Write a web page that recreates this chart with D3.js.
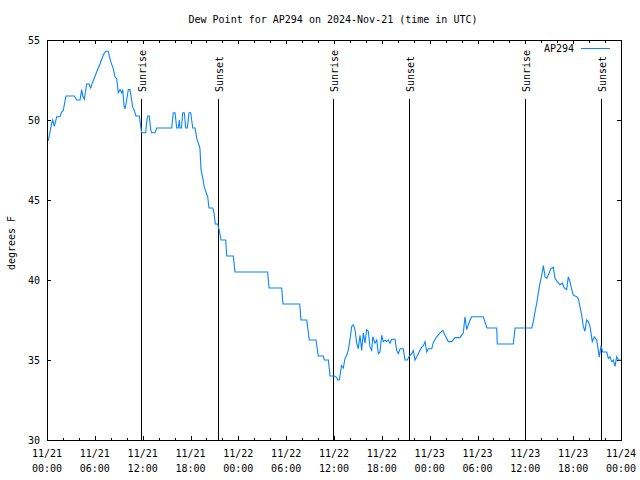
<!DOCTYPE html>
<html><head><meta charset="utf-8">
<script src="https://cdn.jsdelivr.net/npm/d3@7"></script>
<style>
html,body{margin:0;padding:0;background:#fff;}
svg text{font-family:"DejaVu Sans Mono",monospace;font-size:10px;fill:#000;}
</style></head>
<body>
<svg id="c" width="640" height="480"></svg>
<script>
// ---- data (hours since 2024-11-21 00:00 UTC, dew point in °F) ----
const title = "Dew Point for AP294 on 2024-Nov-21 (time in UTC)";
const seriesName = "AP294";
const yLabel = "degrees F";
const yTicks = [30, 35, 40, 45, 50, 55];
const hours = [
0.16,0.59,0.72,0.92,1.22,1.63,1.84,2.04,2.38,3.42,3.73,4.14,4.35,4.48,4.68,4.98,5.27,5.48,5.68,6.23,6.65,7.06,7.36,7.69,7.81,8.03,8.32,8.53,8.74,8.94,9.16,9.37,9.50,9.66,9.78,9.91,10.20,10.41,10.54,10.75,10.95,11.16,11.58,11.75,11.88,12.38,12.51,12.63,12.83,13.01,13.13,13.55,13.76,15.64,15.84,16.06,16.27,16.47,16.60,16.68,16.87,17.02,17.22,17.40,17.60,17.81,18.03,18.15,18.28,18.57,18.78,19.10,19.19,19.32,19.53,19.73,20.16,20.32,20.79,20.95,21.11,21.41,21.61,21.83,22.42,22.54,23.37,23.58,27.68,27.85,29.44,29.60,31.70,31.86,32.58,32.90,33.74,34.03,34.66,34.78,35.29,35.50,36.04,36.34,36.47,36.67,36.94,37.17,37.38,37.59,37.79,38.01,38.22,38.42,38.63,38.85,39.05,39.26,39.47,39.68,39.89,40.10,40.30,40.52,40.73,40.86,41.14,41.36,41.56,41.77,41.98,42.18,42.40,42.61,42.81,43.03,43.24,43.65,43.86,44.07,44.28,44.69,44.91,45.20,45.45,45.75,45.95,46.16,46.38,46.58,47.00,47.20,47.42,47.63,47.83,48.26,48.46,48.88,49.30,49.64,49.92,50.34,50.76,51.18,51.80,52.22,52.43,52.64,52.85,53.06,53.27,54.73,55.15,55.23,56.41,56.48,58.49,58.71,60.80,61.00,61.21,61.43,61.63,61.84,62.06,62.26,62.47,62.68,62.97,63.18,63.51,63.72,64.01,64.35,64.64,64.89,65.19,65.39,65.60,65.82,66.02,66.44,66.64,66.86,67.07,67.27,67.48,67.69,67.90,68.11,68.40,68.65,68.95,69.15,69.28,69.49,69.70,70.21,70.41,70.62,70.83,71.04,71.25,71.46,71.67,71.97
];
const dewF = [
48.7,49.8,50.0,49.6,50.2,50.2,50.5,50.6,51.5,51.5,51.25,51.25,51.9,51.5,51.3,52.25,52.25,52.0,52.3,53.0,53.5,54.06,54.3,54.3,54.0,53.6,53.2,52.7,52.6,51.7,51.9,51.7,51.9,50.9,50.7,51.0,51.9,51.9,51.5,50.8,50.6,50.25,50.25,49.6,49.2,49.2,49.9,50.25,50.25,49.4,49.2,49.2,49.5,49.5,50.45,50.45,49.5,49.5,50.0,49.5,49.5,50.45,50.45,49.5,49.5,50.45,50.45,50.0,49.5,49.5,48.85,48.4,48.2,46.9,46.4,45.8,45.2,44.5,44.5,44.2,43.5,43.5,43.1,42.5,42.5,41.5,41.5,40.5,40.5,39.5,39.5,38.5,38.5,37.5,37.5,36.25,36.25,35.25,35.25,35.0,35.0,34.0,34.0,33.9,33.75,33.75,34.65,34.5,35.1,35.3,35.6,36.3,37.1,37.2,36.9,36.05,35.7,36.55,35.6,36.7,36.05,36.9,36.8,35.8,35.6,36.45,36.05,36.25,35.4,35.5,36.55,36.15,36.25,36.15,36.25,36.05,36.3,36.3,35.6,35.4,35.7,35.7,35.0,35.0,35.25,35.4,35.6,35.0,35.2,35.4,35.8,35.9,36.15,35.5,35.7,35.7,36.1,36.45,36.7,36.85,36.55,36.15,36.15,36.4,36.4,36.7,37.7,36.9,37.2,37.5,37.7,37.7,37.05,37.0,37.0,36.0,36.0,37.0,37.0,37.4,38.0,38.55,39.2,39.8,40.3,40.9,40.2,40.1,40.4,40.7,40.8,40.1,39.9,39.7,39.8,39.5,39.4,40.2,39.9,39.4,39.05,38.95,38.85,38.3,37.8,37.1,36.8,37.5,37.4,37.1,36.15,36.45,36.25,35.6,35.2,35.9,35.5,35.5,35.1,35.2,34.9,35.0,34.6,35.2,35.0,35.0
];
const sunriseHours = [11.79, 35.88, 59.96];
const sunsetHours = [21.45, 45.41, 69.49];

// ---- layout ----
const L = 47, R = 621, T = 40, B = 440;
const t0 = Date.UTC(2024, 10, 21, 0, 0);
const t1 = Date.UTC(2024, 10, 24, 0, 0);
const toDate = h => new Date(t0 + h * 3600e3);

const svg = d3.select("#c");
const x = d3.scaleUtc().domain([new Date(t0), new Date(t1)]).range([L, R]);
const y = d3.scaleLinear().domain([30, 55]).range([B, T]);

const g = svg.append("g").attr("shape-rendering", "crispEdges");

// ticks (inward, mirrored)
const majorX = d3.utcHour.every(6).range(new Date(t0), new Date(t1 + 1));
const minorX = d3.utcHour.every(2).range(new Date(t0), new Date(t1 + 1));
function tickAxis(axisFn, scale, vals, size, tr) {
  const a = axisFn(scale).tickValues(vals).tickSizeInner(size).tickSizeOuter(0).tickFormat("");
  const s = g.append("g").attr("transform", tr).call(a);
  s.select(".domain").remove();
  s.selectAll("line").attr("stroke", "#000");
}
tickAxis(d3.axisBottom, x, minorX, -2.5, `translate(0,${B})`);
tickAxis(d3.axisBottom, x, majorX, -4, `translate(0,${B})`);
tickAxis(d3.axisTop, x, minorX, -2.5, `translate(0,${T})`);
tickAxis(d3.axisTop, x, majorX, -4, `translate(0,${T})`);
tickAxis(d3.axisLeft, y, yTicks, -4, `translate(${L},0)`);
tickAxis(d3.axisRight, y, yTicks, -4, `translate(${R},0)`);

// sunrise/sunset lines
const events = sunriseHours.map(h => ({h, label: "Sunrise"}))
  .concat(sunsetHours.map(h => ({h, label: "Sunset"})));
g.selectAll("line.ev").data(events).enter().append("line")
  .attr("class", "ev")
  .attr("x1", d => Math.round(x(toDate(d.h))) + 0.5).attr("x2", d => Math.round(x(toDate(d.h))) + 0.5)
  .attr("y1", 99).attr("y2", B)
  .attr("stroke", "#000").attr("stroke-width", 1);
svg.selectAll("text.ev").data(events).enter().append("text")
  .attr("class", "ev")
  .attr("transform", d => `translate(${Math.round(x(toDate(d.h))) + 5},92) rotate(-90)`)
  .attr("text-anchor", "start")
  .text(d => d.label);

// data line
const line = d3.line().x((d, i) => x(toDate(hours[i]))).y(d => y(d));
svg.append("path").datum(dewF)
  .attr("d", line)
  .attr("fill", "none")
  .attr("stroke", "#0a84ff")
  .attr("stroke-width", 1.1);

// border
g.append("rect").attr("x", L + 0.5).attr("y", T + 0.5).attr("width", R - L).attr("height", B - T)
  .attr("fill", "none").attr("stroke", "#000");

// y tick labels
svg.selectAll("text.yl").data(yTicks).enter().append("text")
  .attr("x", 40).attr("y", d => y(d)).attr("dy", "0.35em")
  .attr("text-anchor", "end").text(d => d);

// x tick labels
const fmtD = d3.utcFormat("%m/%d"), fmtT = d3.utcFormat("%H:%M");
const xl = svg.selectAll("text.xl").data(majorX).enter().append("text")
  .attr("text-anchor", "middle");
xl.append("tspan").attr("x", d => x(d)).attr("y", 457).text(d => fmtD(d));
xl.append("tspan").attr("x", d => x(d)).attr("y", 472).text(d => fmtT(d));

// title
svg.append("text").attr("x", 333).attr("y", 23).attr("text-anchor", "middle").text(title);
// y label
svg.append("text").attr("transform", `translate(15,243) rotate(-90)`).attr("text-anchor", "middle").text(yLabel);

// legend
svg.append("text").attr("x", 574).attr("y", 52).attr("text-anchor", "end").text(seriesName);
g.append("line").attr("x1", 581).attr("x2", 610).attr("y1", 48.5).attr("y2", 48.5)
  .attr("stroke", "#0a84ff");
</script>
</body></html>
